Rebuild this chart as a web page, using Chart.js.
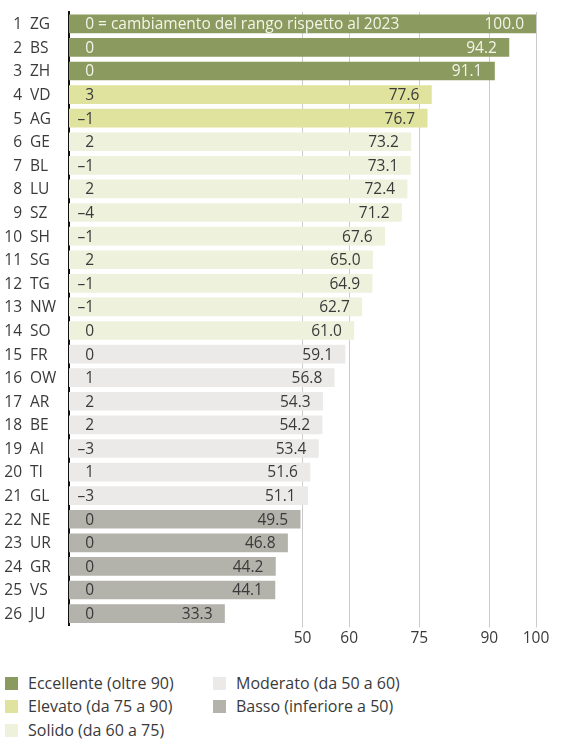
<!DOCTYPE html>
<html>
<head>
<meta charset="utf-8">
<script src="https://cdn.jsdelivr.net/npm/chart.js@4"></script>
<style>
  body { margin: 0; background: #fff; font-family: "Open Sans", sans-serif; }
  #wrap { position: relative; width: 580px; height: 650px; }
  .legend { position: absolute; font-size: 16px; color: #3a3a3a; }
  .legend span.sq { position: absolute; left: 0; top: 4px; width: 13px; height: 13px; }
  .legend span.tx { position: absolute; left: 23px; top: -1px; white-space: nowrap; }
</style>
</head>
<body>
<div id="wrap"><canvas id="chart"></canvas></div>
<div class="legend" style="left:5px;top:673px;"><span class="sq" style="background:#8b9a5e"></span><span class="tx">Eccellente (oltre 90)</span></div>
<div class="legend" style="left:5px;top:696px;"><span class="sq" style="background:#dfe39d"></span><span class="tx">Elevato (da 75 a 90)</span></div>
<div class="legend" style="left:5px;top:720px;"><span class="sq" style="background:#eef1dc"></span><span class="tx">Solido (da 60 a 75)</span></div>
<div class="legend" style="left:213px;top:673px;"><span class="sq" style="background:#ebeae8"></span><span class="tx">Moderato (da 50 a 60)</span></div>
<div class="legend" style="left:213px;top:696px;"><span class="sq" style="background:#b3b2ab"></span><span class="tx">Basso (inferiore a 50)</span></div>
<script>
// ===============================
// dati
// ===============================
const cantoni = ["1 ZG", "2 BS", "3 ZH", "4 VD", "5 AG", "6 GE", "7 BL", "8 LU", "9 SZ", "10 SH",
    "11 SG", "12 TG", "13 NW", "14 SO", "15 FR", "16 OW", "17 AR", "18 BE", "19 AI", "20 TI",
    "21 GL", "22 NE", "23 UR", "24 GR", "25 VS", "26 JU"];
const valori = [100.0, 94.2, 91.1, 77.6, 76.7, 73.2, 73.1, 72.4, 71.2, 67.6,
    65.0, 64.9, 62.7, 61.0, 59.1, 56.8, 54.3, 54.2, 53.4, 51.6,
    51.1, 49.5, 46.8, 44.2, 44.1, 33.3];
const cambioRango = ["0", "0", "0", "3", "\u20131", "2", "\u20131", "2", "\u20134", "\u20131",
    "2", "\u20131", "\u20131", "0", "0", "1", "2", "2", "\u20133", "1",
    "\u20133", "0", "0", "0", "0", "0"];
const tickValori = [50, 60, 75, 90, 100];
const notaPrimaRiga = " = cambiamento del rango rispetto al 2023";

function colore(v) {
    if (v > 90) return "#8b9a5e";
    if (v >= 75) return "#dfe39d";
    if (v >= 60) return "#eef1dc";
    if (v >= 50) return "#ebeae8";
    return "#b3b2ab";
}

const FONT = '"Open Sans", sans-serif';
const TESTO = "#3a3a3a";

// etichette dentro le barre + etichette asse y (rango a destra, sigla a sinistra)
const barLabels = {
    id: "barLabels",
    afterDatasetsDraw(chart) {
        const ctx = chart.ctx;
        const meta = chart.getDatasetMeta(0);
        ctx.save();
        ctx.font = "15.5px " + FONT;
        ctx.textBaseline = "middle";
        meta.data.forEach((bar, i) => {
            const dark = valori[i] > 90;
            ctx.fillStyle = dark ? "#f4f5ea" : TESTO;
            ctx.textAlign = "right";
            ctx.fillText(valori[i].toFixed(1), bar.x - 12, bar.y + 1);
            ctx.fillText(cambioRango[i], bar.base + 25, bar.y + 1);
            if (i === 0) {
                ctx.textAlign = "left";
                ctx.fillText(notaPrimaRiga, bar.base + 25, bar.y + 1);
            }
            // asse y
            const parti = cantoni[i].split(" ");
            ctx.fillStyle = TESTO;
            ctx.textAlign = "right";
            ctx.fillText(parti[0], 22, bar.y + 1);
            ctx.textAlign = "left";
            ctx.fillText(parti[1], 30, bar.y + 1);
        });
        ctx.restore();
    }
};

new Chart(document.getElementById("chart"), {
    type: "bar",
    data: {
        labels: cantoni,
        datasets: [{
            data: valori,
            backgroundColor: valori.map(colore),
            barThickness: 18,
            borderWidth: 0
        }]
    },
    options: {
        indexAxis: "y",
        responsive: true,
        maintainAspectRatio: false,
        animation: false,
        layout: { padding: { top: 12, right: 44, left: 5, bottom: 0 } },
        plugins: {
            legend: { display: false },
            tooltip: { enabled: false }
        },
        scales: {
            x: {
                min: 0,
                max: 100,
                z: 1,
                afterBuildTicks(scale) {
                    scale.ticks = tickValori.map(v => ({ value: v }));
                },
                grid: { color: "rgba(160,160,160,0.55)", lineWidth: 1, drawTicks: true, tickLength: 2 },
                border: { display: false },
                ticks: {
                    color: TESTO,
                    font: { size: 15.5, family: FONT },
                    padding: 2,
                    maxRotation: 0,
                    autoSkip: false
                }
            },
            y: {
                z: 1,
                afterFit(scale) { scale.width = 64; },
                grid: { display: false },
                border: { color: "#111", width: 2 },
                ticks: { display: false }
            }
        }
    },
    plugins: [barLabels]
});
</script>
</body>
</html>
